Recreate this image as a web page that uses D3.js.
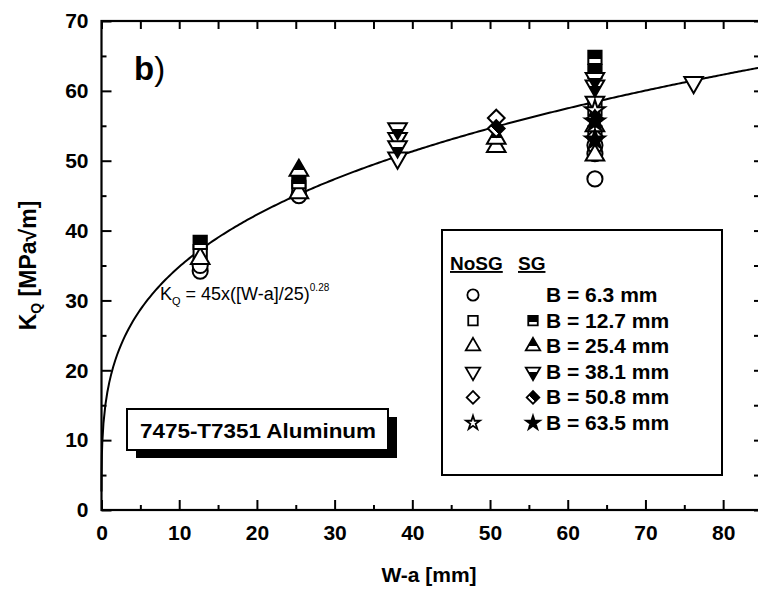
<!DOCTYPE html>
<html>
<head>
<meta charset="utf-8">
<script src="https://cdn.jsdelivr.net/npm/d3@7"></script>
<style>
  html, body { margin: 0; padding: 0; background: #fff; }
  svg { display: block; font-family: "Liberation Sans", Arial, sans-serif; }
</style>
</head>
<body>
<svg id="chart" width="758" height="590"></svg>
<script>
// Specimen thicknesses and their legend labels
const thicknessLabels = ["B = 6.3 mm", "B = 12.7 mm", "B = 25.4 mm", "B = 38.1 mm", "B = 50.8 mm", "B = 63.5 mm"];

// Axis ticks
const xMajorTicks = [0, 10, 20, 30, 40, 50, 60, 70, 80];
const xMinorTicks = [5, 15, 25, 35, 45, 55, 65, 75, 85];
const yMajorTicks = [0, 10, 20, 30, 40, 50, 60, 70];
const yMinorTicks = [5, 15, 25, 35, 45, 55, 65];

// Measured K_Q [MPa√m] vs W-a [mm], as [W-a, K_Q]
// NoSG = without side grooves, SG = side grooved
const noSG_B6_3  = [[12.7, 34.2], [12.7, 35.0], [25.4, 45.0], [63.5, 47.4], [63.5, 51.0], [63.5, 52.2]];
const noSG_B12_7 = [[12.7, 37.0], [25.4, 46.2], [63.5, 57.5], [63.5, 54.0]];
const sg_B12_7   = [[12.7, 38.3], [25.4, 47.0], [63.5, 64.8], [63.5, 62.8]];
const noSG_B25_4 = [[12.7, 36.0], [25.4, 45.4], [50.8, 52.0], [63.5, 50.8]];
const sg_B25_4   = [[25.4, 48.6], [50.8, 53.2], [63.5, 55.0]];
const noSG_B38_1 = [[38.1, 50.4], [38.1, 53.2], [63.5, 58.4], [76.2, 61.2]];
const sg_B38_1   = [[38.1, 54.6], [38.1, 52.0], [63.5, 60.7], [63.5, 61.8]];
const noSG_B50_8 = [[50.8, 56.1], [63.5, 53.4]];
const sg_B50_8   = [[50.8, 54.6], [63.5, 56.0]];
const noSG_B63_5 = [[63.5, 57.2]];
const sg_B63_5   = [[63.5, 55.6], [63.5, 53.0]];

// Fit: K_Q = 45 x ((W-a)/25)^0.28
const fitCoef = 45, fitRef = 25, fitExp = 0.28;

const svg = d3.select("#chart");
const x = d3.scaleLinear().domain([0, 85]).range([101.5, 762]);
const y = d3.scaleLinear().domain([0, 70]).range([510, 21]);

// Half-filled marker fill for side-grooved specimens
const defs = svg.append("defs");
const grad = defs.append("linearGradient").attr("id", "halfFill")
  .attr("x1", 0).attr("y1", 0).attr("x2", 0).attr("y2", 1);
grad.append("stop").attr("offset", 0.66).attr("stop-color", "#000");
grad.append("stop").attr("offset", 0.66).attr("stop-color", "#fff");

const shapes = {
  circle:   { type: d3.symbolCircle,   rot: 0,   k: 1.0 },
  square:   { type: d3.symbolSquare,   rot: 0,   k: 1.0 },
  triUp:    { type: d3.symbolTriangle, rot: 0,   k: 1.0 },
  triDown:  { type: d3.symbolTriangle, rot: 180, k: 1.0 },
  diamond:  { type: d3.symbolSquare,   rot: 45,  k: 0.8 },
  star:     { type: d3.symbolStar,     rot: 0,   k: 1.0 }
};

const series = [
  { data: noSG_B6_3,  shape: "circle",  filled: false },
  { data: noSG_B12_7, shape: "square",  filled: false },
  { data: noSG_B25_4, shape: "triUp",   filled: false },
  { data: noSG_B38_1, shape: "triDown", filled: false },
  { data: noSG_B50_8, shape: "diamond", filled: false },
  { data: noSG_B63_5, shape: "star",    filled: false },
  { data: sg_B12_7,   shape: "square",  filled: true },
  { data: sg_B25_4,   shape: "triUp",   filled: true },
  { data: sg_B38_1,   shape: "triDown", filled: true },
  { data: sg_B50_8,   shape: "diamond", filled: true },
  { data: sg_B63_5,   shape: "star",    filled: true }
];

const baseSize = { circle: 180, square: 175, triUp: 150, triDown: 150, diamond: 175, star: 120 };
const legendSize = { circle: 100, square: 90, triUp: 90, triDown: 90, diamond: 100, star: 60 };

function markerPath(shape, size) {
  const s = shapes[shape];
  return d3.symbol().type(s.type).size(size * s.k)();
}
function markerFill(shape, filled) {
  if (!filled) return "#fff";
  return shape === "star" ? "#000" : "url(#halfFill)";
}

// Frame
svg.append("rect")
  .attr("x", x(0)).attr("y", y(70))
  .attr("width", x(85) - x(0)).attr("height", y(0) - y(70))
  .attr("fill", "none").attr("stroke", "#000").attr("stroke-width", 2.2);

// Axes with inward ticks
function styleAxis(g) {
  g.select(".domain").remove();
  g.selectAll(".tick line").attr("stroke", "#000").attr("stroke-width", 2);
}
const tickFont = (g) => g.selectAll(".tick text")
  .attr("font-size", 21).attr("font-weight", "bold").attr("fill", "#000");

svg.append("g").attr("transform", `translate(0,${y(0)})`)
  .call(d3.axisBottom(x).tickValues(xMajorTicks).tickSize(-10).tickPadding(15).tickFormat(d3.format("d")))
  .call(styleAxis).call(tickFont);
svg.append("g").attr("transform", `translate(0,${y(0)})`)
  .call(d3.axisBottom(x).tickValues(xMinorTicks).tickSize(-5).tickFormat(""))
  .call(styleAxis);
svg.append("g").attr("transform", `translate(0,${y(70)})`)
  .call(d3.axisTop(x).tickValues(xMajorTicks.concat(xMinorTicks)).tickSize(-8).tickFormat(""))
  .call(styleAxis);

svg.append("g").attr("transform", `translate(${x(0)},0)`)
  .call(d3.axisLeft(y).tickValues(yMajorTicks).tickSize(-10).tickPadding(13).tickFormat(d3.format("d")))
  .call(styleAxis).call(tickFont);
svg.append("g").attr("transform", `translate(${x(0)},0)`)
  .call(d3.axisLeft(y).tickValues(yMinorTicks).tickSize(-5).tickFormat(""))
  .call(styleAxis);
svg.append("g").attr("transform", `translate(${x(85)},0)`)
  .call(d3.axisRight(y).tickValues(yMajorTicks.concat(yMinorTicks)).tickSize(-8).tickFormat(""))
  .call(styleAxis);

// Fitted curve
const fitX = [0.001, 0.01, 0.05, 0.1].concat(d3.range(0.25, 86, 0.25));
const fitLine = d3.line()
  .x(d => x(d))
  .y(d => y(fitCoef * Math.pow(d / fitRef, fitExp)));
svg.append("path").datum(fitX)
  .attr("d", fitLine)
  .attr("fill", "none").attr("stroke", "#000").attr("stroke-width", 2);

// Data markers
const markers = svg.append("g");
series.forEach(s => {
  const sh = shapes[s.shape];
  markers.selectAll(null).data(s.data).enter().append("path")
    .attr("d", markerPath(s.shape, baseSize[s.shape]))
    .attr("transform", d => `translate(${x(d[0])},${y(d[1])}) rotate(${sh.rot})`)
    .attr("fill", markerFill(s.shape, s.filled))
    .attr("stroke", "#000").attr("stroke-width", 2);
});

// Panel label
svg.append("text").attr("x", 134).attr("y", 80)
  .attr("font-size", 33).attr("fill", "#000")
  .call(t => {
    t.append("tspan").attr("font-weight", "bold").text("b");
    t.append("tspan").text(")");
  });

// Fit equation
const eq = svg.append("text").attr("x", 160).attr("y", 300)
  .attr("font-size", 18).attr("fill", "#000");
eq.append("tspan").text("K");
eq.append("tspan").attr("font-size", 11).attr("dy", 5).text("Q");
eq.append("tspan").attr("dy", -5).text(" = 45x([W-a]/25)");
eq.append("tspan").attr("font-size", 10).attr("dy", -9).text("0.28");

// Material box with drop shadow
const mat = svg.append("g");
mat.append("rect").attr("x", 136).attr("y", 417).attr("width", 261).attr("height", 41).attr("fill", "#000");
mat.append("rect").attr("x", 127).attr("y", 409).attr("width", 261).attr("height", 41)
  .attr("fill", "#fff").attr("stroke", "#000").attr("stroke-width", 2);
mat.append("text").attr("x", 140).attr("y", 438)
  .attr("font-size", 21).attr("font-weight", "bold").attr("fill", "#000")
  .attr("textLength", 236).attr("lengthAdjust", "spacingAndGlyphs")
  .text("7475-T7351 Aluminum");

// Legend
const leg = svg.append("g");
leg.append("rect").attr("x", 442).attr("y", 230).attr("width", 280).attr("height", 245)
  .attr("fill", "#fff").attr("stroke", "#000").attr("stroke-width", 2);
leg.append("text").attr("x", 450).attr("y", 270)
  .attr("font-size", 19).attr("font-weight", "bold").attr("fill", "#000")
  .attr("text-decoration", "underline")
  .text("NoSG");
leg.append("text").attr("x", 518).attr("y", 270)
  .attr("font-size", 19).attr("font-weight", "bold").attr("fill", "#000")
  .attr("text-decoration", "underline")
  .text("SG");

const legShapes = ["circle", "square", "triUp", "triDown", "diamond", "star"];
const rowY = d3.scaleLinear().domain([0, 5]).range([295, 423]);
thicknessLabels.forEach((lab, i) => {
  const shape = legShapes[i];
  const sh = shapes[shape];
  const ly = rowY(i);
  leg.append("path")
    .attr("d", markerPath(shape, legendSize[shape]))
    .attr("transform", `translate(473,${ly}) rotate(${sh.rot})`)
    .attr("fill", "#fff").attr("stroke", "#000").attr("stroke-width", 1.8);
  if (i > 0) {
    leg.append("path")
      .attr("d", markerPath(shape, legendSize[shape]))
      .attr("transform", `translate(533,${ly}) rotate(${sh.rot})`)
      .attr("fill", markerFill(shape, true)).attr("stroke", "#000").attr("stroke-width", 1.8);
  }
  leg.append("text").attr("x", 546).attr("y", ly + 7)
    .attr("font-size", 21).attr("font-weight", "bold").attr("fill", "#000")
    .text(lab);
});

// Axis titles
svg.append("text").attr("x", 429).attr("y", 582).attr("text-anchor", "middle")
  .attr("font-size", 21).attr("font-weight", "bold").attr("fill", "#000")
  .text("W-a [mm]");
const yt = svg.append("text")
  .attr("transform", `translate(36,${(y(0) + y(70)) / 2}) rotate(-90)`)
  .attr("text-anchor", "middle")
  .attr("font-size", 23).attr("font-weight", "bold").attr("fill", "#000");
yt.append("tspan").text("K");
yt.append("tspan").attr("font-size", 14).attr("dy", 5).text("Q");
yt.append("tspan").attr("dy", -5).text(" [MPa√m]");
</script>
</body>
</html>
